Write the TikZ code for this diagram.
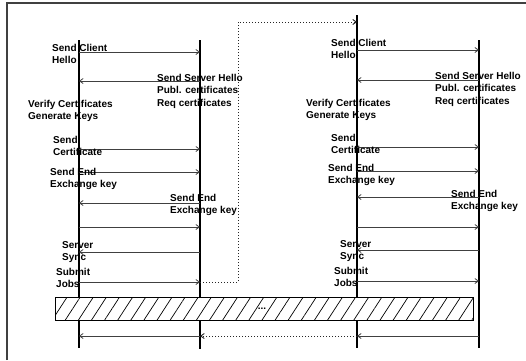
\documentclass[tikz,border=0pt]{standalone}
\usepackage{fontspec}
\setmainfont{Liberation Sans}
\usetikzlibrary{arrows.meta, positioning, patterns.meta}

\begin{document}
\begin{tikzpicture}[
    x=1pt, y=-1pt,
    lifeline/.style={line width=1.3pt, black},
    msg/.style={-{Straight Barb[length=3.5pt, width=5pt]}, line width=0.8pt, black!75},
    jump/.style={-{Straight Barb[length=3.5pt, width=5pt]}, line width=0.9pt,
                 black!85, dash pattern=on 1.2pt off 1.8pt},
    lbl/.style={anchor=north west, align=left, inner sep=0pt,
                font=\fontsize{10}{12.5}\selectfont\bfseries},
    hatch/.style={draw, line width=0.8pt, preaction={fill=white},
                  pattern={Lines[angle=57, distance=11pt, line width=0.7pt]},
                  minimum width=418pt, minimum height=23pt,
                  inner sep=0pt, anchor=north west}
  ]
  \useasboundingbox (0,0) rectangle (526,360);
  \draw[line width=1.2pt, black!75] (7,360) -- (7,3) -- (526,3);

  % lifelines
  \coordinate (clientA) at (79,40);
  \coordinate (serverA) at (200,40);
  \coordinate (clientB) at (357,15);
  \coordinate (serverB) at (479,40);
  \draw[lifeline] (clientA) -- (clientA |- 0,348);
  \draw[lifeline] (serverA) -- (serverA |- 0,349);
  \draw[lifeline] (clientB) -- (clientB |- 0,348);
  \draw[lifeline] (serverB) -- (serverB |- 0,348);

  % first handshake
  \draw[msg] (clientA |- 0,52) -- (serverA |- 0,52);
  \draw[msg] (serverA |- 0,81) -- (clientA |- 0,81);
  \draw[msg] (clientA |- 0,149) -- (serverA |- 0,149);
  \draw[msg] (clientA |- 0,172) -- (serverA |- 0,172);
  \draw[msg] (serverA |- 0,203) -- (clientA |- 0,203);
  \draw[msg] (clientA |- 0,227) -- (serverA |- 0,227);
  \draw[msg] (serverA |- 0,252) -- (clientA |- 0,252);
  \draw[msg] (clientA |- 0,282) -- (serverA |- 0,282);
  \draw[msg] (serverA |- 0,336) -- (clientA |- 0,336);

  \node[lbl] (helloA) at (52,44) {Send Client\\Hello};
  \node[lbl] (srvhelloA) at (157,74) {Send Server Hello\\Publ. certificates\\Req certificates};
  \node[lbl] (verifyA) at (28,100) {Verify Certificates\\Generate Keys};
  \node[lbl] (certA) at (53,136) {Send\\Certificate};
  \node[lbl] (keyA) at (50,168) {Send End\\Exchange key};
  \node[lbl] (srvkeyA) at (170,194) {Send End\\Exchange key};
  \node[lbl] (syncA) at (62,241) {Server\\Sync};
  \node[lbl] (jobsA) at (56,268) {Submit\\Jobs};

  % second handshake
  \draw[msg] (clientB |- 0,50) -- (serverB |- 0,50);
  \draw[msg] (serverB |- 0,80) -- (clientB |- 0,80);
  \draw[msg] (clientB |- 0,147) -- (serverB |- 0,147);
  \draw[msg] (clientB |- 0,171) -- (serverB |- 0,171);
  \draw[msg] (serverB |- 0,197) -- (clientB |- 0,197);
  \draw[msg] (clientB |- 0,227) -- (serverB |- 0,227);
  \draw[msg] (serverB |- 0,250) -- (clientB |- 0,250);
  \draw[msg] (clientB |- 0,281) -- (serverB |- 0,281);
  \draw[msg] (serverB |- 0,336) -- (clientB |- 0,336);

  \node[lbl] (helloB) at (331,39) {Send Client\\Hello};
  \node[lbl] (srvhelloB) at (435,72) {Send Server Hello\\Publ. certificates\\Req certificates};
  \node[lbl] (verifyB) at (306,99) {Verify Certificates\\Generate Keys};
  \node[lbl] (certB) at (331,134) {Send\\Certificate};
  \node[lbl] (keyB) at (328,164) {Send End\\Exchange key};
  \node[lbl] (srvkeyB) at (451,190) {Send End\\Exchange key};
  \node[lbl] (syncB) at (340,240) {Server\\Sync};
  \node[lbl] (jobsB) at (334,267) {Submit\\Jobs};

  % hand-over between the two
  \coordinate (turn) at (238,22);
  \draw[jump] (serverA |- 0,282) -| (turn) -- (clientB |- turn);
  \draw[jump] (clientB |- 0,336) -- (serverA |- 0,336);

  \node[hatch] (bar) at (55,297) {};
  \node[inner sep=0pt, font=\fontsize{10}{10}\selectfont\bfseries] (dots) at (262,309) {...};
\end{tikzpicture}
\end{document}
